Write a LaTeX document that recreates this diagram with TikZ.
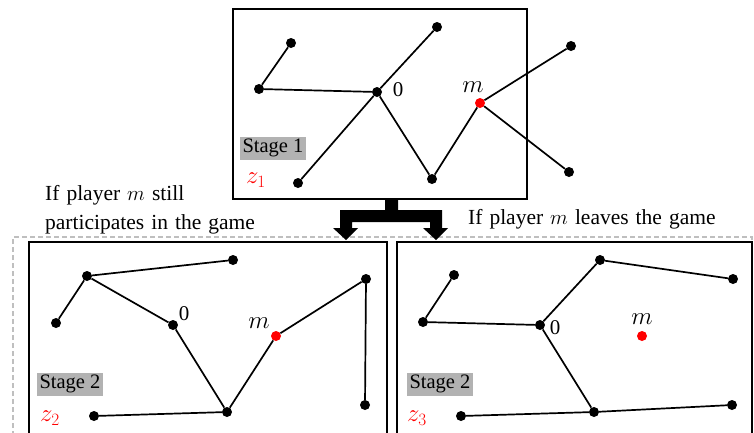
\documentclass[tikz,border=0pt]{standalone}
\usepackage{fontspec}
\setmainfont{Liberation Serif}
\newcommand\capfont{\fontsize{21.5}{29}\selectfont\spaceskip=7pt plus 1pt minus 1pt\relax}
\begin{document}
\begin{tikzpicture}[x=1pt,y=-1pt,
  dot/.style={circle,fill=black,inner sep=0pt,minimum size=10pt},
  rdot/.style={circle,fill=red,inner sep=0pt,minimum size=10pt},
  lnk/.style={line width=1.7pt},
  frame/.style={line width=1.6pt},
  lbl/.style={font=\fontsize{21}{24}\selectfont,inner sep=0pt},
  mlbl/.style={font=\fontsize{24}{24}\selectfont,inner sep=0pt},
  stagebox/.style={fill=black!30,inner xsep=3pt,inner ysep=2pt,font=\fontsize{20.5}{24}\selectfont,text height=14pt,text depth=5pt},
  zlbl/.style={text=red,font=\fontsize{25}{24}\selectfont,inner sep=0pt},
  caption/.style={font=\capfont,inner sep=0pt,align=left}]
\useasboundingbox (0,0) rectangle (754,432);
\clip (0,0) rectangle (754,432);

% dashed outer frame
\draw[black!25,dashed,line width=1.2pt,dash pattern=on 5pt off 3pt] (13,460) -- (13,237) -- (752,237) -- (752,460);

% frames
\draw[frame] (233,9) rectangle (527,199);
\draw[frame] (29,242) rectangle (387,460);
\draw[frame] (397,242) rectangle (752,460);

% splitting arrow
\fill[black] (385,199) -- (398,199) -- (398,210) -- (442,210) -- (442,228) -- (448,228) -- (436,240)
  -- (423,228) -- (430,228) -- (430,222) -- (352,222) -- (352,228) -- (358,228) -- (346,240)
  -- (333,228) -- (340,228) -- (340,210) -- (385,210) -- cycle;

% captions
\node[caption,anchor=north west] (capL) at (45,185) {If player $m$ still\\participates in the game};
\node[caption,anchor=north west] (capR) at (468,209) {If player $m$ leaves the game};

% ---------- Stage 1 ----------
\node[dot] (a1) at (291,43) {};
\node[dot] (b1) at (259,89) {};
\node[dot] (o1) at (377,92) {};
\node[dot] (c1) at (437,27) {};
\node[dot] (d1) at (298,183) {};
\node[dot] (e1) at (432,179) {};
\node[rdot] (m1) at (480,103) {};
\node[dot] (f1) at (571,46) {};
\node[dot] (g1) at (569,172) {};
\draw[lnk] (a1) -- (b1) (b1) -- (o1) (o1) -- (c1) (o1) -- (d1) (o1) -- (e1)
  (e1) -- (m1) (m1) -- (f1) (m1) -- (g1);
\node[lbl] (z01) at (398,90) {0};
\node[mlbl] (mm1) at (473,87) {$m$};
\node[stagebox] (s1) at (273,148) {Stage 1};
\node[zlbl] (z1) at (256,180) {$z_1$};

% ---------- Stage 2 (left) ----------
\node[dot] (p1) at (87,276) {};
\node[dot] (p2) at (233,260) {};
\node[dot] (p3) at (56,323) {};
\node[dot] (o2) at (173,325) {};
\node[rdot] (m2) at (276,336) {};
\node[dot] (p4) at (366,279) {};
\node[dot] (p5) at (365,405) {};
\node[dot] (p6) at (227,412) {};
\node[dot] (p7) at (94,416) {};
\draw[lnk] (p3) -- (p1) (p1) -- (p2) (p1) -- (o2) (o2) -- (p6) (p6) -- (p7)
  (p6) -- (m2) (m2) -- (p4) (p4) -- (p5);
\node[lbl] (z02) at (184,314) {0};
\node[mlbl] (mm2) at (259,323) {$m$};
\node[stagebox] (s2) at (70,384) {Stage 2};
\node[zlbl] (z2) at (50,418) {$z_2$};

% ---------- Stage 2 (right) ----------
\node[dot] (q1) at (454,275) {};
\node[dot] (q2) at (423,322) {};
\node[dot] (o3) at (540,325) {};
\node[dot] (q3) at (600,260) {};
\node[dot] (q4) at (733,279) {};
\node[rdot] (m3) at (642,336) {};
\node[dot] (q5) at (594,412) {};
\node[dot] (q6) at (461,416) {};
\node[dot] (q7) at (732,405) {};
\draw[lnk] (q1) -- (q2) (q2) -- (o3) (o3) -- (q3) (q3) -- (q4) (o3) -- (q5)
  (q6) -- (q5) (q5) -- (q7);
\node[lbl] (z03) at (555,328) {0};
\node[mlbl] (mm3) at (642,319) {$m$};
\node[stagebox] (s3) at (440,384) {Stage 2};
\node[zlbl] (z3) at (417,418) {$z_3$};
\end{tikzpicture}
\end{document}
